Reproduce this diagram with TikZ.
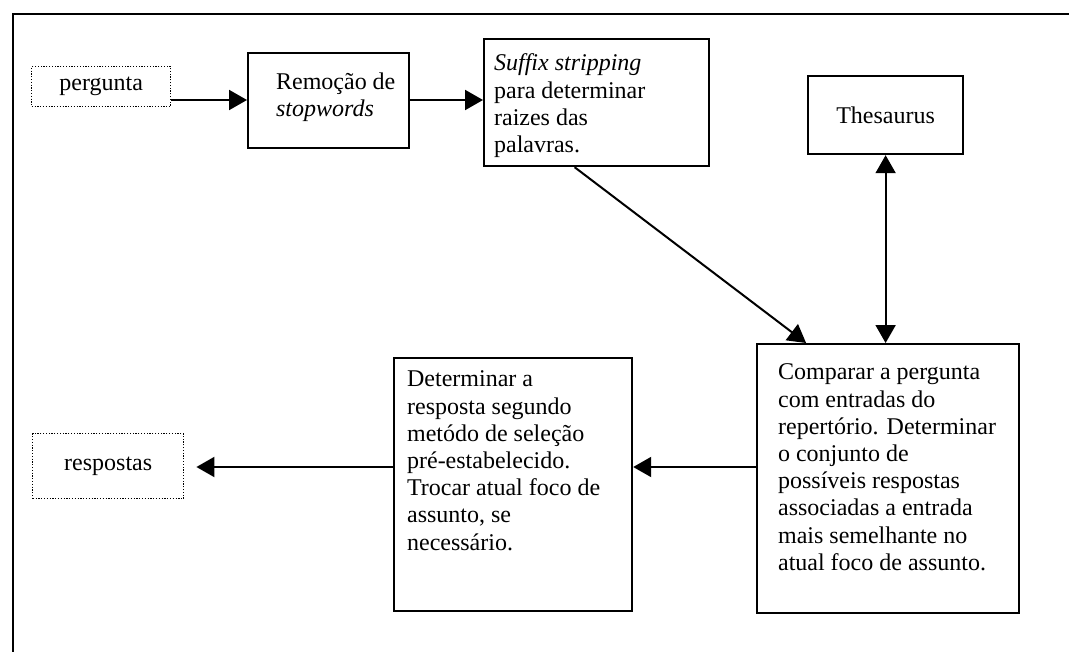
\documentclass[tikz,border=0pt]{standalone}
\usepackage{fontspec}
\setmainfont{Liberation Serif}
\usetikzlibrary{arrows.meta,positioning}
\newcommand{\caixatexto}[5]{\parbox[c][#2][t]{#1}{\vspace*{#4}\raggedright\leftskip=#3\relax #5}}

\begin{document}
\begin{tikzpicture}[x=0.5pt, y=-0.5pt,
    font=\fontsize{12}{13.6}\selectfont,
    caixa/.style={draw, line width=1.1pt, inner sep=0pt, anchor=north west},
    pontilhada/.style={draw, line width=0.7pt, dash pattern=on 0.6pt off 0.8pt, inner sep=0pt, anchor=north west},
    seta/.style={line width=1pt, -{Triangle[length=9pt, width=10pt]}},
    seta dupla/.style={line width=1pt, {Triangle[length=9pt, width=10pt]}-{Triangle[length=9pt, width=10pt]}}]
    \useasboundingbox (0,0) rectangle (1069,652);
    \draw[line width=1pt] (13,652) -- (13,14) -- (1069,14);
    \coordinate (nivel) at (0,100);
    \coordinate (linha) at (0,467);

    \node[pontilhada, minimum width=69.5pt, minimum height=20pt] (pergunta) at (31,66) {pergunta};
    \node[caixa] (remocao) at (247,52) {\caixatexto{80.5pt}{47.5pt}{14pt}{10pt}{Remoção de\\\textit{stopwords}}};
    \node[caixa] (suffix) at (483,38) {\caixatexto{112.5pt}{63.5pt}{5pt}{7.5pt}{\textit{Suffix stripping}\\para determinar\\raizes das\\palavras.}};
    \node[caixa, minimum width=77.5pt, minimum height=39pt] (thesaurus) at (807,75) {Thesaurus};
    \node[caixa] (comparar) at (756,343) {\caixatexto{131pt}{134.5pt}{10.5pt}{10pt}{Comparar a pergunta\\com entradas do\\repertório. Determinar\\o conjunto de\\possíveis respostas\\associadas a entrada\\mais semelhante no\\atual foco de assunto.}};
    \node[caixa] (determinar) at (393,357) {\caixatexto{119pt}{126.5pt}{6.5pt}{6.5pt}{Determinar a\\resposta segundo\\metódo de seleção\\pré-estabelecido.\\Trocar atual foco de\\assunto, se\\necessário.}};
    \node[pontilhada, minimum width=75.5pt, minimum height=32.5pt] (respostas) at (32,433) {respostas};

    \draw[seta] (pergunta.east |- nivel) -- (remocao.west |- nivel);
    \draw[seta] (remocao.east |- nivel) -- (suffix.west |- nivel);
    \draw[seta] ([xshift=-11pt]suffix.south) -- ([xshift=-41pt]comparar.north);
    \draw[seta dupla] (thesaurus.south) -- (thesaurus.south |- comparar.north);
    \draw[seta] (comparar.west |- linha) -- (determinar.east |- linha);
    \draw[seta, shorten >=6pt] (determinar.west |- linha) -- (respostas.east |- linha);
\end{tikzpicture}
\end{document}
